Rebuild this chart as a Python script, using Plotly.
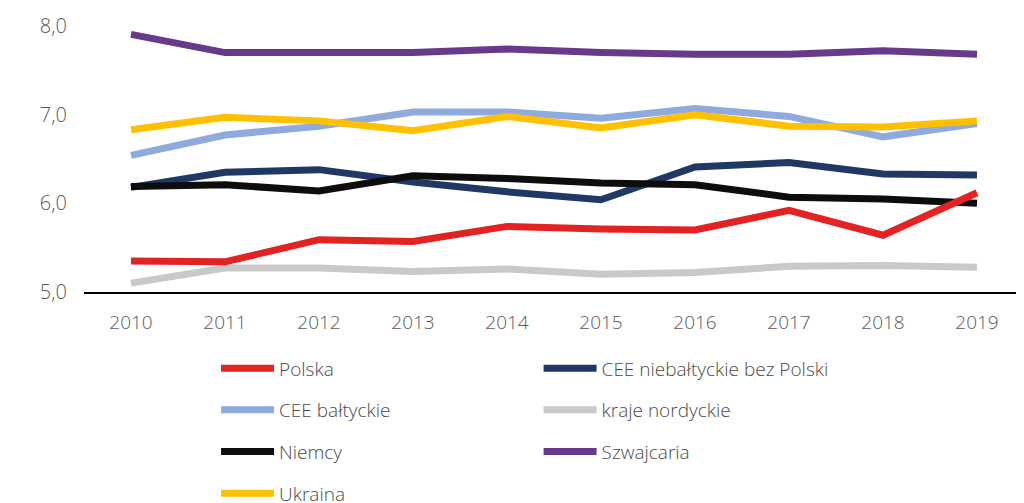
import plotly.graph_objects as go

years = ["2010", "2011", "2012", "2013", "2014", "2015", "2016", "2017", "2018", "2019"]

polska = [5.35, 5.34, 5.59, 5.57, 5.74, 5.71, 5.70, 5.92, 5.64, 6.12]
cee_niebaltyckie = [6.18, 6.35, 6.38, 6.24, 6.13, 6.04, 6.41, 6.46, 6.33, 6.32]
cee_baltyckie = [6.54, 6.77, 6.87, 7.03, 7.03, 6.96, 7.07, 6.98, 6.75, 6.90]
kraje_nordyckie = [5.10, 5.27, 5.27, 5.23, 5.26, 5.20, 5.22, 5.29, 5.30, 5.28]
niemcy = [6.19, 6.21, 6.14, 6.31, 6.28, 6.23, 6.21, 6.07, 6.05, 6.00]
szwajcaria = [7.905, 7.70, 7.70, 7.70, 7.74, 7.70, 7.68, 7.68, 7.72, 7.68]
ukraina = [6.83, 6.97, 6.93, 6.82, 6.98, 6.85, 7.00, 6.87, 6.86, 6.93]

# (name, values, colour, legend, rank) - drawing order follows the list
series = [
    ("CEE niebałtyckie bez Polski", cee_niebaltyckie, "#203864", "legend2", 1),
    ("CEE bałtyckie", cee_baltyckie, "#8FAADC", "legend", 2),
    ("kraje nordyckie", kraje_nordyckie, "#C9C9C9", "legend2", 2),
    ("Niemcy", niemcy, "#0D0D0D", "legend", 3),
    ("Szwajcaria", szwajcaria, "#673A8B", "legend2", 3),
    ("Ukraina", ukraina, "#FFC000", "legend", 4),
    ("Polska", polska, "#E32222", "legend", 1),
]

font = "'Open Sans', Lato, sans-serif"

fig = go.Figure()
for name, vals, col, leg, rank in series:
    fig.add_trace(go.Scatter(
        x=years, y=vals, name=name, mode="lines",
        line=dict(color=col, width=7),
        legend=leg, legendrank=rank, legendgroup=name,
    ))

legend_style = dict(
    font=dict(family=font, size=19, color="#4a4a4a", weight=300),
    orientation="v", yanchor="top", xanchor="left",
    tracegroupgap=14, itemwidth=53, bgcolor="rgba(0,0,0,0)",
)

# page body has an 8px margin, so the figure is 8px smaller than the window
fig.update_layout(
    width=1016, height=495,
    margin=dict(l=76, r=0, t=18, b=211, autoexpand=False),
    paper_bgcolor="white", plot_bgcolor="white",
    separators=", ",
    font=dict(family=font, color="#595959", size=18, weight=300),
    legend=dict(x=0.1405, y=-0.2155, **legend_style),
    legend2=dict(x=0.4836, y=-0.2155, **legend_style),
    xaxis=dict(
        type="category", range=[-0.5, 9.5],
        showline=True, linecolor="black", linewidth=2,
        showgrid=False, zeroline=False, ticks="",
        ticklabelstandoff=12,
        tickfont=dict(family=font, size=19, color="#595959", weight=300),
    ),
    yaxis=dict(
        range=[5, 8], dtick=1, tickformat=".1f",
        showgrid=False, zeroline=False, showline=False, ticks="",
        ticklabelstandoff=16,
        tickfont=dict(family=font, size=20, color="#595959", weight=300),
    ),
)

fig.write_html("out.html")
